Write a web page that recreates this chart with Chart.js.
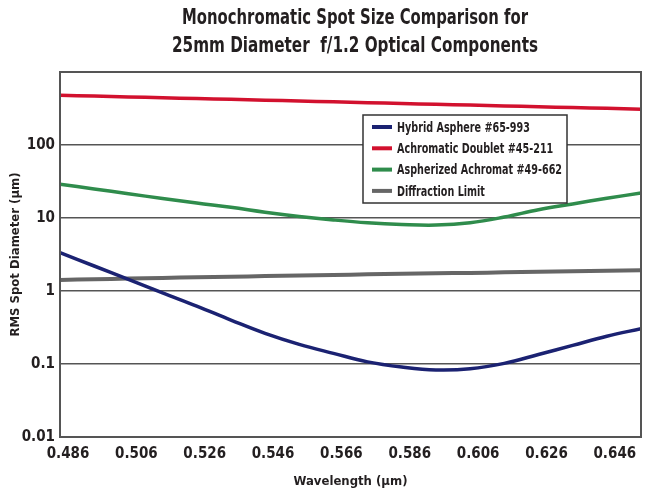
<!DOCTYPE html>
<html>
<head>
<meta charset="utf-8">
<script src="https://cdn.jsdelivr.net/npm/chart.js@4.4.0/dist/chart.umd.min.js"></script>
<style>
  html, body { margin: 0; padding: 0; background: #fff; }
</style>
</head>
<body>
<canvas id="spotChart" width="645" height="503"></canvas>
<script>
// values
const wavelengths = [0.486, 0.496, 0.506, 0.516, 0.526, 0.536, 0.546, 0.556, 0.566,
                     0.576, 0.586, 0.596, 0.606, 0.616, 0.626, 0.636, 0.646, 0.656];
const hybridAsphere = [3.36, 2.2, 1.44, 0.94, 0.62, 0.40, 0.263, 0.186, 0.14,
                       0.107, 0.091, 0.083, 0.086, 0.102, 0.135, 0.18, 0.24, 0.305];
const achromaticDoublet = [480, 468, 456, 444, 433, 422, 411, 400, 390,
                           380, 370, 361, 352, 343, 334, 326, 318, 310];
const aspherizedAchromat = [29, 25, 21.5, 18.5, 16, 14, 12, 10.5, 9.4,
                            8.6, 8.15, 8.0, 8.6, 10.3, 13, 15.6, 18.6, 22];
const diffractionLimit = [1.42, 1.45, 1.48, 1.51, 1.54, 1.57, 1.60, 1.63, 1.66,
                          1.69, 1.72, 1.75, 1.77, 1.80, 1.83, 1.86, 1.89, 1.92];

const seriesNames = ['Hybrid Asphere #65-993', 'Achromatic Doublet #45-211',
                     'Aspherized Achromat #49-662', 'Diffraction Limit'];
const seriesColors = ['#1b2272', '#d2112e', '#2f8c4c', '#666666'];

const xTicks = [0.486, 0.506, 0.526, 0.546, 0.566, 0.586, 0.606, 0.626, 0.646];
const yTicks = [0.01, 0.1, 1, 10, 100, 1000];
const titleLines = ['Monochromatic Spot Size Comparison for',
                    '25mm Diameter  f/1.2 Optical Components'];

const FONT = "'Liberation Sans Narrow', 'DejaVu Sans Condensed', sans-serif";
const INK = '#231f20';

const toPoints = (ys) => wavelengths.map((x, i) => ({ x: x, y: ys[i] }));
const allSeries = [hybridAsphere, achromaticDoublet, aspherizedAchromat, diffractionLimit];

// box, legend and title drawn on top
const overlay = {
  id: 'overlay',
  afterDatasetsDraw(chart) {
    const { ctx, chartArea: a } = chart;
    ctx.save();
    ctx.strokeStyle = '#555';
    ctx.lineWidth = 2;
    ctx.strokeRect(a.left, a.top, a.right - a.left, a.bottom - a.top);

    // legend
    const lx = a.left + 303, ly = a.top + 43, lw = 204, lh = 88;
    ctx.fillStyle = '#fff';
    ctx.fillRect(lx, ly, lw, lh);
    ctx.strokeStyle = '#333';
    ctx.lineWidth = 1.5;
    ctx.strokeRect(lx, ly, lw, lh);
    ctx.font = 'bold 14px ' + FONT;
    ctx.textBaseline = 'middle';
    const longest = Math.max(...chart.data.datasets.map(ds => ctx.measureText(ds.label).width));
    const k = Math.min(1, 165 / longest);
    chart.data.datasets.forEach((ds, i) => {
      const cy = ly + 12 + i * 21.3;
      ctx.strokeStyle = ds.borderColor;
      ctx.lineWidth = 4;
      ctx.beginPath();
      ctx.moveTo(lx + 9, cy);
      ctx.lineTo(lx + 29, cy);
      ctx.stroke();
      ctx.save();
      ctx.translate(lx + 34, cy + 1);
      ctx.scale(k, 1);
      ctx.fillStyle = INK;
      ctx.fillText(ds.label, 0, 0);
      ctx.restore();
    });

    // title, squeezed to the condensed width of the original
    ctx.font = 'bold 22px ' + FONT;
    ctx.textAlign = 'center';
    ctx.fillStyle = INK;
    const widths = [346, 366];
    titleLines.forEach((t, i) => {
      const w = ctx.measureText(t).width;
      const s = Math.min(1, widths[i] / w);
      ctx.save();
      ctx.translate(355, 18 + i * 28);
      ctx.scale(s, 1);
      ctx.fillText(t, 0, 0);
      ctx.restore();
    });
    ctx.restore();
  }
};

const ctx = document.getElementById('spotChart').getContext('2d');
const spotChart = new Chart(ctx, {
  type: 'line',
  data: {
    datasets: allSeries.map((ys, i) => ({
      label: seriesNames[i],
      data: toPoints(ys),
      borderColor: seriesColors[i],
      borderWidth: i === 3 ? 4 : 3.5,
      pointRadius: 0,
      tension: 0.4,
      fill: false
    }))
  },
  options: {
    responsive: false,
    animation: false,
    layout: { padding: { top: 72, right: 4, left: 0, bottom: 0 } },
    plugins: {
      legend: { display: false },
      title: { display: false },
      tooltip: { enabled: false }
    },
    scales: {
      x: {
        type: 'linear',
        min: 0.486,
        max: 0.656,
        afterBuildTicks: (s) => { s.ticks = xTicks.map(v => ({ value: v })); },
        afterFit: (s) => { s.height = 66; },
        grid: { display: false, drawTicks: false },
        border: { display: false },
        ticks: {
          padding: 8,
          labelOffset: 8,
          maxRotation: 0,
          color: INK,
          font: { family: FONT, size: 15, weight: 'bold' },
          callback: (v) => v.toFixed(3)
        },
        title: {
          display: true,
          text: 'Wavelength (µm)',
          color: INK,
          font: { family: FONT, size: 13, weight: 'bold' },
          padding: { top: 4, bottom: 14 }
        }
      },
      y: {
        type: 'logarithmic',
        min: 0.01,
        max: 1000,
        afterBuildTicks: (s) => { s.ticks = yTicks.map(v => ({ value: v })); },
        afterFit: (s) => { s.width = 60; },
        grid: { color: '#555', lineWidth: 1.5, drawTicks: false },
        border: { display: false },
        ticks: {
          padding: 5,
          color: INK,
          font: { family: FONT, size: 15, weight: 'bold' },
          callback: (v) => (v >= 1000 ? '' : String(v))
        },
        title: {
          display: true,
          text: 'RMS Spot Diameter (µm)',
          color: INK,
          font: { family: FONT, size: 13, weight: 'bold' },
          padding: { top: 8, bottom: 0 }
        }
      }
    }
  },
  plugins: [overlay]
});
</script>
</body>
</html>
